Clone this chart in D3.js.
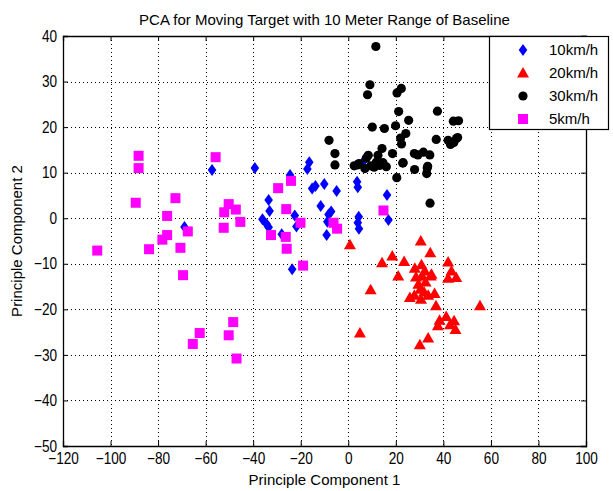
<!DOCTYPE html>
<html>
<head>
<meta charset="utf-8">
<script src="https://cdn.jsdelivr.net/npm/d3@7/dist/d3.min.js"></script>
<style>
  body { margin: 0; background: #fff; }
  text { font-family: "Liberation Sans", Arial, sans-serif; fill: #000; }
</style>
</head>
<body>
<div id="chart"></div>
<script>
const width = 613;
const height = 491;
const margin = {top: 36, right: 27, bottom: 45, left: 63};

// data: [PC1, PC2]
const speed10 = [[-68.9,-1.9],[-57.3,10.6],[-39.3,11.0],[-24.5,9.5],[-16.4,12.3],[-17.2,10.8],[-13.8,7.1],[-15.2,6.5],
  [-10.1,7.5],[-4.9,6.0],[3.7,8.0],[4.0,6.8],[16.3,5.1],[16.9,-0.4],[-33.5,4.0],[-33.1,1.6],[-36.1,-0.2],[-34.3,-1.3],
  [-33.5,-2.0],[-22.5,0.6],[-21.8,-1.8],[-28.0,-3.5],[-11.6,2.7],[-8.3,0.8],[-8.8,-0.8],[-9.1,-3.7],[4.4,0.3],[4.5,-2.3],
  [4.0,-1.0],[-23.6,-11.2],[6.8,12.8],[-7.2,1.5]];
const speed20 = [[0.7,-5.8],[30.5,-5.0],[34.5,-7.6],[18.5,-8.3],[14.2,-9.8],[23.5,-9.5],[42.0,-9.6],[28.0,-11.0],
  [30.8,-10.2],[32.2,-11.6],[35.0,-12.3],[43.4,-11.6],[45.4,-13.0],[42.0,-13.2],[21.0,-12.7],[28.5,-12.9],[31.0,-12.7],
  [34.7,-12.7],[9.4,-15.7],[30.3,-15.6],[31.9,-16.2],[27.8,-16.9],[25.9,-17.4],[33.6,-16.9],[36.3,-16.5],[30.6,-17.8],
  [36.9,-19.2],[55.4,-19.2],[41.2,-21.6],[38.4,-22.4],[44.5,-22.5],[37.7,-23.6],[42.8,-23.4],[45.1,-24.4],[4.9,-25.2],
  [33.6,-26.3],[30.1,-27.8],[29.5,-14.5],[32.5,-14.0]];
const speed30 = [[11.6,37.7],[9.1,29.3],[8.1,27.1],[22.3,28.5],[20.5,27.5],[21.2,23.4],[37.5,23.5],[25.4,21.5],
  [44.2,21.3],[46.4,21.4],[10.1,20.0],[15.2,19.7],[19.9,20.3],[24.2,18.6],[22.0,17.6],[22.4,16.3],[37.0,17.3],[42.0,17.1],
  [46.0,17.7],[44.4,16.6],[45.5,17.5],[43.0,16.2],[-8.1,17.1],[-5.6,14.2],[-5.6,11.7],[14.2,15.3],[18.6,14.2],[27.8,14.2],
  [31.6,14.5],[34.3,13.9],[23.1,12.2],[27.9,10.7],[33.4,11.4],[33.0,9.8],[33.2,11.0],[20.4,8.9],[34.4,3.3],[8.4,13.8],
  [3.9,11.7],[7.0,10.9],[12.5,13.8],[11.8,12.3],[14.6,12.2],[13.2,11.6],[10.9,11.2],[4.5,12.0],[7.6,13.2],[2.5,11.5],
  [9.5,11.5],[16.0,11.3],[22.9,12.1],[29.3,13.9]];
const speed5 = [[-88.2,13.7],[-88.2,11.0],[-55.8,13.4],[-89.4,3.4],[-72.7,4.4],[-76.2,0.5],[-50.3,3.1],[-47.3,1.9],
  [-52.2,1.3],[-45.4,-0.8],[-52.4,-2.1],[-67.5,-2.9],[-76.2,-3.7],[-78.2,-4.7],[-70.6,-6.5],[-83.8,-6.8],[-105.6,-7.1],
  [-69.5,-12.5],[-48.4,-22.8],[-62.5,-25.2],[-50.3,-25.7],[-65.4,-27.6],[-47.0,-30.8],[-29.5,6.6],[-24.1,8.2],[-26.1,2.0],
  [-20.1,-1.0],[-32.5,-3.7],[-26.3,-4.1],[-25.9,-6.7],[-19.0,-10.4],[-6.2,-1.0],[-4.7,-2.3],[14.8,1.7]];

const seriesNames = ["10km/h", "20km/h", "30km/h", "5km/h"];
const seriesColors = ["#0000ff", "#ff0000", "#000000", "#ff00ff"];
const xTicks = d3.range(-120, 101, 20);
const yTicks = d3.range(-50, 41, 10);

const title = "PCA for Moving Target with 10 Meter Range of Baseline";
const xLabel = "Principle Component 1";
const yLabel = "Principle Component 2";

const squeeze = 0.85; // tick font is narrow and tall

const x = d3.scaleLinear().domain([-120, 100]).range([margin.left, width - margin.right]);
const y = d3.scaleLinear().domain([-50, 40]).range([height - margin.bottom, margin.top]);

const svg = d3.select("#chart").append("svg")
  .attr("width", width)
  .attr("height", height);

// dotted grid
const grid = svg.append("g").attr("stroke", "#000").attr("stroke-dasharray", "1,3").attr("stroke-width", 1);
grid.selectAll(".gx").data(xTicks.slice(1, -1)).join("line")
  .attr("x1", d => Math.round(x(d)) + 0.5).attr("x2", d => Math.round(x(d)) + 0.5)
  .attr("y1", y(40)).attr("y2", y(-50));
grid.selectAll(".gy").data(yTicks.slice(1, -1)).join("line")
  .attr("y1", d => Math.round(y(d)) + 0.5).attr("y2", d => Math.round(y(d)) + 0.5)
  .attr("x1", x(-120)).attr("x2", x(100));

// marker shapes
const symbols = [
  g => g.append("path").attr("d", "M0,-6L4.3,0L0,6L-4.3,0Z"),
  g => g.append("path").attr("d", "M0,-6L6,4.5L-6,4.5Z"),
  g => g.append("circle").attr("r", 4.6),
  g => g.append("rect").attr("x", -5).attr("y", -5).attr("width", 10).attr("height", 10)
];

const allSeries = [speed10, speed20, speed30, speed5];
allSeries.forEach((data, i) => {
  const g = svg.append("g").attr("fill", seriesColors[i]);
  data.forEach(d => {
    const m = g.append("g").attr("transform", `translate(${x(d[0])},${y(d[1])})`);
    symbols[i](m);
  });
});

// axes, ticks pointing inward like matlab
const axBottom = svg.append("g")
  .attr("transform", `translate(0,${y(-50)})`)
  .call(d3.axisBottom(x).tickValues(xTicks).tickSize(-5).tickPadding(7));
const axTop = svg.append("g")
  .attr("transform", `translate(0,${y(40)})`)
  .call(d3.axisTop(x).tickValues(xTicks).tickSize(-5).tickFormat(""));
const axLeft = svg.append("g")
  .attr("transform", `translate(${x(-120)},0)`)
  .call(d3.axisLeft(y).tickValues(yTicks).tickSize(-5).tickPadding(6));
const axRight = svg.append("g")
  .attr("transform", `translate(${x(100)},0)`)
  .call(d3.axisRight(y).tickValues(yTicks).tickSize(-5).tickFormat(""));

[axBottom, axTop, axLeft, axRight].forEach(a => {
  a.select(".domain").attr("stroke", "#000").attr("stroke-width", 1.3);
  a.selectAll("line").attr("stroke", "#000");
  a.selectAll("text").style("font-size", "16px").attr("fill", "#000")
    .attr("transform", `scale(${squeeze},1)`);
});
axLeft.selectAll("text").attr("x", -6 / squeeze);

svg.append("text")
  .attr("x", (x(-120) + x(100)) / 2).attr("y", 25)
  .attr("text-anchor", "middle").style("font-size", "15px")
  .text(title);

svg.append("text")
  .attr("x", (x(-120) + x(100)) / 2).attr("y", 485)
  .attr("text-anchor", "middle").style("font-size", "15px")
  .text(xLabel);

svg.append("text")
  .attr("transform", `translate(22,${(y(40) + y(-50)) / 2}) rotate(-90)`)
  .attr("text-anchor", "middle").style("font-size", "15px")
  .text(yLabel);

// legend
const legend = svg.append("g");
legend.append("rect")
  .attr("x", 489.5).attr("y", 36.5).attr("width", 119).attr("height", 93)
  .attr("fill", "#fff").attr("stroke", "#000").attr("stroke-width", 1.2);
seriesNames.forEach((name, i) => {
  const ly = 50 + i * 23;
  const m = legend.append("g").attr("fill", seriesColors[i]).attr("transform", `translate(523,${ly})`);
  symbols[i](m);
  legend.append("text")
    .attr("x", 549).attr("y", ly).attr("dy", "0.36em")
    .style("font-size", "15px")
    .text(name);
});
</script>
</body>
</html>
